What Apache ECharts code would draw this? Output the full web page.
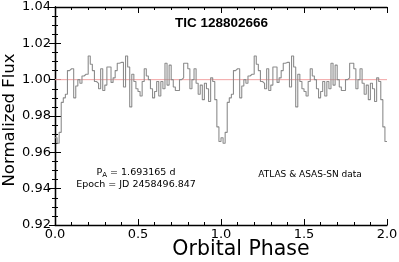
<!DOCTYPE html>
<html><head><meta charset="utf-8">
<script src="https://cdn.jsdelivr.net/npm/echarts@6/dist/echarts.min.js"></script>
<style>html,body{margin:0;padding:0;background:#fff}#c{width:399px;height:262px}</style>
</head><body><div id="c"></div>
<script>
// Phase-folded flux, one cycle, 80 equal phase bins (bin width 0.0125)
const binWidth = 0.0125;
const fluxCycle = [
0.968,0.965,0.971,0.9875,0.990,0.992,1.005,1.006,1.006,0.990,
0.9965,1.000,0.998,1.002,1.003,1.003,1.013,1.0085,1.005,0.999,
0.998,0.995,1.006,0.994,0.997,1.007,1.007,0.9985,1.001,1.005,
1.009,1.0095,1.0095,0.996,1.013,1.007,0.985,1.003,0.999,0.995,
0.9935,0.991,0.999,1.006,1.002,1.000,0.995,0.990,0.9935,0.999,
0.991,0.999,0.995,1.009,0.997,1.008,1.000,0.996,0.994,0.994,
1.000,1.001,1.009,1.009,1.006,0.995,1.000,1.006,0.998,0.992,
0.997,0.989,0.998,0.995,0.988,1.001,0.999,0.989,0.974,0.966
];
const cycles = [0, 1];
const refLevel = 1.0;
const xTicks = [0, 0.5, 1.0, 1.5, 2.0];
const yTicks = [0.92, 0.94, 0.96, 0.98, 1.00, 1.02, 1.04];

const stepData = [];
cycles.forEach(c => fluxCycle.forEach((v, i) => stepData.push([c + i * binWidth, v])));
stepData.push([cycles.length, fluxCycle[fluxCycle.length - 1]]);

const chart = echarts.init(document.getElementById('c'), null, {renderer: 'canvas'});
const font = 'DejaVu Sans';
const axisCommon = {
  axisLine: {show: true, lineStyle: {color: '#000', width: 1.3}},
  axisTick: {show: true, inside: true, length: 6, lineStyle: {color: '#000', width: 1}},
  splitLine: {show: false}
};
const xMinor = {minorTick: {show: true, splitNumber: 5, length: 3, lineStyle: {color: '#000'}}};
const yMinor = {minorTick: {show: true, splitNumber: 4, length: 3, lineStyle: {color: '#000'}}};
chart.setOption({
  animation: false,
  grid: {left: 55, right: 12, top: 7, bottom: 37, containLabel: false, outerBoundsMode: 'none'},
  xAxis: [
    Object.assign({type: 'value', position: 'bottom', min: xTicks[0], max: xTicks[xTicks.length-1], interval: 0.5,
      axisLabel: {fontFamily: font, fontSize: 13, color: '#000', margin: 3, formatter: v => v.toFixed(1)}}, axisCommon, xMinor),
    Object.assign({type: 'value', position: 'top', min: 0, max: 2, interval: 0.5,
      axisLabel: {show: false}}, axisCommon, xMinor)
  ],
  yAxis: [
    Object.assign({type: 'value', position: 'left', min: yTicks[0], max: yTicks[yTicks.length-1], interval: 0.02,
      axisLabel: {fontFamily: font, fontSize: 13, color: '#000', margin: 4, formatter: v => v.toFixed(2)}}, axisCommon, yMinor),
    Object.assign({type: 'value', position: 'right', min: 0.92, max: 1.04, interval: 0.02,
      axisLabel: {show: false}}, axisCommon, yMinor)
  ],
  series: [
    {type: 'line', data: [[0, refLevel], [2, refLevel]], symbol: 'none', silent: true,
     lineStyle: {color: '#f2a3a3', width: 1}, z: 1},
    {type: 'line', data: stepData, step: 'end', symbol: 'none', silent: true,
     lineStyle: {color: '#8c8c8c', width: 1.1}, z: 2}
  ],
  graphic: [
    {type: 'text', x: 10, y: 120, rotation: Math.PI / 2,
     style: {text: 'Normalized Flux', fontFamily: font, fontSize: 16.5, fill: '#000', align: 'center', verticalAlign: 'middle'}},
    {type: 'text', x: 241, y: 250,
     style: {text: 'Orbital Phase', fontFamily: font, fontSize: 20.5, fill: '#000', align: 'center', verticalAlign: 'middle'}},
    {type: 'text', left: 222 - 47, top: 16, style: {text: 'TIC 128802666', fontFamily: 'Liberation Sans', fontWeight: 'bold', fontSize: 13.5, fill: '#000'}},
    {type: 'text', x: 136, y: 173, style: {text: '{n|P}{s|A}{n| = 1.693165 d}', align: 'center', verticalAlign: 'middle',
      rich: {n: {fontFamily: font, fontSize: 9.5, fill: '#000'}, s: {fontFamily: font, fontSize: 7, fill: '#000', verticalAlign: 'bottom', padding: [4,0,0,0]}}}},
    {type: 'text', x: 136, y: 185, style: {text: 'Epoch = JD 2458496.847', fontFamily: font, fontSize: 9.5, fill: '#000', align: 'center', verticalAlign: 'middle'}},
    {type: 'text', x: 310, y: 175, style: {text: 'ATLAS & ASAS-SN data', fontFamily: font, fontSize: 9, fill: '#000', align: 'center', verticalAlign: 'middle'}}
  ]
});
</script></body></html>
